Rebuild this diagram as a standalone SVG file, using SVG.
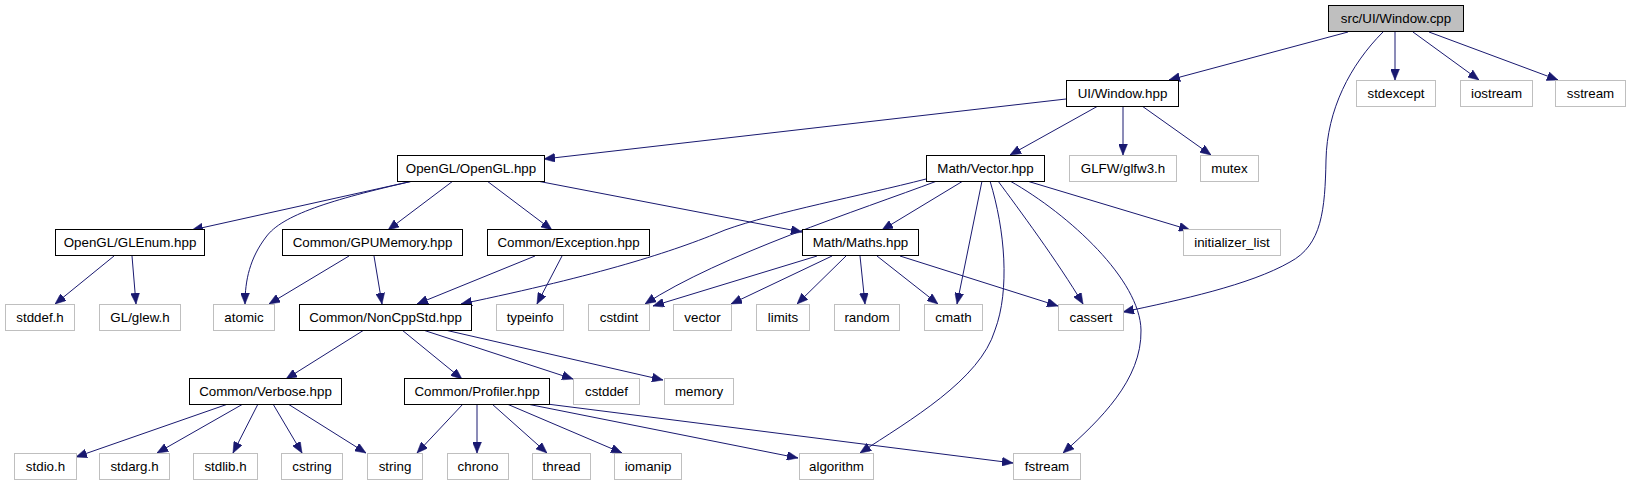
<svg xmlns="http://www.w3.org/2000/svg" width="1631" height="485" viewBox="0 0 1631 485">
<style>
.n rect{fill:#ffffff;stroke:#000000;stroke-width:1}
.x rect{fill:#ffffff;stroke:#bfbfbf;stroke-width:1}
.r rect{fill:#bfbfbf;stroke:#000000;stroke-width:1}
text{font-family:"Liberation Sans",Arial,Helvetica,sans-serif;font-size:13.33px;fill:#000000;text-anchor:middle}
.e path{fill:none;stroke:#191970;stroke-width:1;marker-end:url(#ah)}
</style>
<defs>
<marker id="ah" markerUnits="userSpaceOnUse" markerWidth="11" markerHeight="9" refX="11" refY="4.5" orient="auto">
<path d="M0,0 L11,4.5 L0,9 z" fill="#191970" stroke="#191970" stroke-width="0.5"/>
</marker>
</defs>
<rect width="1631" height="485" fill="#ffffff"/>
<g id="edges" class="e">
<path d="M1348,32 L1169,80"/>
<path d="M1395,32 L1395,80"/>
<path d="M1413,32 L1479,80"/>
<path d="M1429,32 L1558,80"/>
<path d="M1383,32 C1350,65 1327,110 1326,160 C1325,210 1322,245 1290,262 C1250,285 1180,300 1123,312"/>
<path d="M1066,99 L544,159"/>
<path d="M1098,106 L1010,155"/>
<path d="M1123,106 L1123,155"/>
<path d="M1142,106 L1211,155"/>
<path d="M413,181 L192,230"/>
<path d="M413,181 C330,200 282,215 266,237 C250,258 245,280 245,304"/>
<path d="M453,181 L388,230"/>
<path d="M487,181 L552,230"/>
<path d="M537,181 L802,232"/>
<path d="M926,179 C860,196 775,212 725,230 C672,252 600,275 461,304"/>
<path d="M937,181 C860,210 720,255 645,304"/>
<path d="M963,181 L882,230"/>
<path d="M982,181 L957,304"/>
<path d="M990,181 C1005,230 1010,290 995,330 C980,380 910,420 860,453"/>
<path d="M998,181 C1018,208 1058,262 1083,304"/>
<path d="M1010,181 C1070,215 1140,280 1141,330 C1142,380 1100,420 1063,453"/>
<path d="M1027,181 L1190,230"/>
<path d="M114,256 L55,304"/>
<path d="M132,256 L136,304"/>
<path d="M349,256 L269,304"/>
<path d="M374,256 L382,304"/>
<path d="M535,256 L417,304"/>
<path d="M562,256 L537,304"/>
<path d="M817,256 L653,306"/>
<path d="M832,256 L731,304"/>
<path d="M846,256 L797,304"/>
<path d="M860,256 L865,304"/>
<path d="M877,256 L938,304"/>
<path d="M900,256 L1058,306"/>
<path d="M364,330 L286,379"/>
<path d="M402,330 L462,379"/>
<path d="M423,330 L573,379"/>
<path d="M445,330 L663,380"/>
<path d="M228,404 L76,457"/>
<path d="M243,404 L157,453"/>
<path d="M258,404 L233,453"/>
<path d="M273,404 L302,453"/>
<path d="M288,404 L366,453"/>
<path d="M463,404 L417,453"/>
<path d="M477,404 L477,453"/>
<path d="M492,404 L547,453"/>
<path d="M507,404 L622,453"/>
<path d="M527,404 L798,458"/>
<path d="M547,404 L1013,463"/>
</g>
<g id="node-window-cpp" class="r"><rect x="1328.5" y="5.5" width="135" height="26"/><text x="1396" y="22.5">src/UI/Window.cpp</text></g>
<g id="node-window-hpp" class="n"><rect x="1066.5" y="80.5" width="112" height="26"/><text x="1122.5" y="97.5">UI/Window.hpp</text></g>
<g id="node-stdexcept" class="x"><rect x="1356.5" y="80.5" width="79" height="26"/><text x="1396" y="97.5">stdexcept</text></g>
<g id="node-iostream" class="x"><rect x="1460.5" y="80.5" width="72" height="26"/><text x="1496.5" y="97.5">iostream</text></g>
<g id="node-sstream" class="x"><rect x="1555.5" y="80.5" width="70" height="26"/><text x="1590.5" y="97.5">sstream</text></g>
<g id="node-opengl" class="n"><rect x="397.5" y="155.5" width="147" height="26"/><text x="471" y="172.5">OpenGL/OpenGL.hpp</text></g>
<g id="node-vector-hpp" class="n"><rect x="926.5" y="155.5" width="118" height="26"/><text x="985.5" y="172.5">Math/Vector.hpp</text></g>
<g id="node-glfw" class="x"><rect x="1069.5" y="155.5" width="107" height="26"/><text x="1123" y="172.5">GLFW/glfw3.h</text></g>
<g id="node-mutex" class="x"><rect x="1200.5" y="155.5" width="58" height="26"/><text x="1229.5" y="172.5">mutex</text></g>
<g id="node-glenum" class="n"><rect x="55.5" y="229.5" width="149" height="26"/><text x="130" y="246.5">OpenGL/GLEnum.hpp</text></g>
<g id="node-gpumemory" class="n"><rect x="282.5" y="229.5" width="180" height="26"/><text x="372.5" y="246.5">Common/GPUMemory.hpp</text></g>
<g id="node-exception" class="n"><rect x="487.5" y="229.5" width="162" height="26"/><text x="568.5" y="246.5">Common/Exception.hpp</text></g>
<g id="node-maths" class="n"><rect x="802.5" y="229.5" width="116" height="26"/><text x="860.5" y="246.5">Math/Maths.hpp</text></g>
<g id="node-initializer-list" class="x"><rect x="1183.5" y="229.5" width="97" height="26"/><text x="1232" y="246.5">initializer_list</text></g>
<g id="node-stddef-h" class="x"><rect x="5.5" y="304.5" width="69" height="26"/><text x="40" y="321.5">stddef.h</text></g>
<g id="node-glew" class="x"><rect x="99.5" y="304.5" width="81" height="26"/><text x="140" y="321.5">GL/glew.h</text></g>
<g id="node-atomic" class="x"><rect x="213.5" y="304.5" width="61" height="26"/><text x="244" y="321.5">atomic</text></g>
<g id="node-noncppstd" class="n"><rect x="299.5" y="304.5" width="172" height="26"/><text x="385.5" y="321.5">Common/NonCppStd.hpp</text></g>
<g id="node-typeinfo" class="x"><rect x="496.5" y="304.5" width="67" height="26"/><text x="530" y="321.5">typeinfo</text></g>
<g id="node-cstdint" class="x"><rect x="588.5" y="304.5" width="61" height="26"/><text x="619" y="321.5">cstdint</text></g>
<g id="node-vector" class="x"><rect x="673.5" y="304.5" width="58" height="26"/><text x="702.5" y="321.5">vector</text></g>
<g id="node-limits" class="x"><rect x="756.5" y="304.5" width="53" height="26"/><text x="783" y="321.5">limits</text></g>
<g id="node-random" class="x"><rect x="834.5" y="304.5" width="65" height="26"/><text x="867" y="321.5">random</text></g>
<g id="node-cmath" class="x"><rect x="924.5" y="304.5" width="58" height="26"/><text x="953.5" y="321.5">cmath</text></g>
<g id="node-cassert" class="x"><rect x="1058.5" y="304.5" width="65" height="26"/><text x="1091" y="321.5">cassert</text></g>
<g id="node-verbose" class="n"><rect x="189.5" y="378.5" width="152" height="26"/><text x="265.5" y="395.5">Common/Verbose.hpp</text></g>
<g id="node-profiler" class="n"><rect x="404.5" y="378.5" width="145" height="26"/><text x="477" y="395.5">Common/Profiler.hpp</text></g>
<g id="node-cstddef" class="x"><rect x="573.5" y="378.5" width="66" height="26"/><text x="606.5" y="395.5">cstddef</text></g>
<g id="node-memory" class="x"><rect x="664.5" y="378.5" width="69" height="26"/><text x="699" y="395.5">memory</text></g>
<g id="node-stdio" class="x"><rect x="14.5" y="453.5" width="62" height="26"/><text x="45.5" y="470.5">stdio.h</text></g>
<g id="node-stdarg" class="x"><rect x="99.5" y="453.5" width="70" height="26"/><text x="134.5" y="470.5">stdarg.h</text></g>
<g id="node-stdlib" class="x"><rect x="193.5" y="453.5" width="64" height="26"/><text x="225.5" y="470.5">stdlib.h</text></g>
<g id="node-cstring" class="x"><rect x="281.5" y="453.5" width="61" height="26"/><text x="312" y="470.5">cstring</text></g>
<g id="node-string" class="x"><rect x="367.5" y="453.5" width="55" height="26"/><text x="395" y="470.5">string</text></g>
<g id="node-chrono" class="x"><rect x="447.5" y="453.5" width="61" height="26"/><text x="478" y="470.5">chrono</text></g>
<g id="node-thread" class="x"><rect x="532.5" y="453.5" width="58" height="26"/><text x="561.5" y="470.5">thread</text></g>
<g id="node-iomanip" class="x"><rect x="614.5" y="453.5" width="67" height="26"/><text x="648" y="470.5">iomanip</text></g>
<g id="node-algorithm" class="x"><rect x="799.5" y="453.5" width="74" height="26"/><text x="836.5" y="470.5">algorithm</text></g>
<g id="node-fstream" class="x"><rect x="1013.5" y="453.5" width="67" height="26"/><text x="1047" y="470.5">fstream</text></g>
</svg>
